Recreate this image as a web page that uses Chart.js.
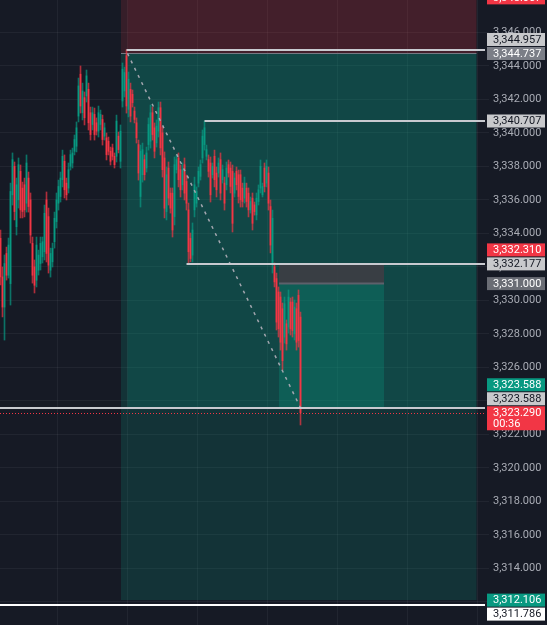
<!DOCTYPE html>
<html>
<head>
<meta charset="utf-8">
<script src="https://cdn.jsdelivr.net/npm/chart.js@4.4.1/dist/chart.umd.min.js"></script>
<style>
html, body { margin: 0; padding: 0; background: #161a25; }
canvas { display: block; }
</style>
</head>
<body>
<canvas id="myChart" width="547" height="625"></canvas>
<script>
// candles (one per index)
var opens = [3333.7,3331.4,3329.6,3332.8,3331.5,3331.0,3336.3,3338.0,3334.4,3336.0,
3337.7,3336.7,3336.9,3335.8,3337.3,3336.0,3333.4,3332.0,3331.2,3331.8,
3332.2,3332.6,3332.9,3336.0,3335.0,3331.8,3332.3,3333.5,3334.7,3335.8,
3336.2,3337.2,3338.3,3337.0,3336.7,3338.0,3338.2,3338.9,3339.2,3341.0,
3343.5,3341.2,3342.1,3342.2,3342.6,3341.2,3340.5,3341.1,3340.6,3340.1,
3340.5,3340.8,3339.8,3339.7,3339.5,3338.9,3339.1,3338.6,3338.6,3339.8,
3338.3,3341.9,3342.5,3344.6,3341.4,3342.6,3342.3,3341.3,3340.6,3339.3,
3336.2,3337.5,3338.4,3337.9,3339.3,3339.5,3341.2,3340.3,3339.4,3340.1,
3341.5,3340.0,3338.5,3335.3,3337.9,3336.4,3336.4,3335.0,3337.8,3338.5,
3337.8,3336.9,3338.1,3337.1,3335.4,3333.7,3332.7,3335.4,3335.8,3337.0,
3337.4,3338.5,3339.3,3338.6,3338.4,3338.2,3337.5,3338.6,3337.6,3337.6,
3338.4,3337.2,3337.0,3336.9,3338.1,3337.9,3337.7,3336.4,3337.7,3337.5,
3337.5,3336.7,3336.1,3336.7,3336.4,3335.4,3336.1,3335.7,3335.1,3335.9,
3336.7,3336.3,3337.9,3337.0,3337.6,3335.6,3332.2,3332.0,3331.3,3330.5,
3330.2,3329.5,3327.8,3328.6,3328.4,3329.9,3329.9,3328.0,3329.5,3330.3,
3329.0];
var highs = [3334.20,3331.99,3332.71,3333.18,3333.72,3337.00,3338.80,3338.26,3337.30,3338.50,
3338.08,3337.06,3337.30,3338.68,3337.66,3336.41,3333.78,3332.41,3333.78,3333.00,
3333.78,3333.78,3335.69,3336.47,3335.51,3333.12,3333.42,3335.27,3336.41,3337.18,
3337.66,3338.97,3338.68,3337.30,3338.20,3338.97,3339.09,3339.87,3340.65,3343.27,
3343.99,3342.97,3342.44,3343.75,3342.97,3341.54,3341.54,3341.48,3340.89,3341.60,
3341.36,3341.06,3340.59,3339.99,3339.75,3339.15,3339.33,3338.80,3341.06,3340.05,
3340.47,3344.17,3343.93,3344.957,3343.63,3342.97,3342.56,3341.54,3340.89,3339.57,
3339.27,3339.39,3338.68,3339.15,3340.89,3341.66,3341.54,3340.59,3340.77,3341.84,
3341.84,3340.35,3338.86,3337.96,3338.26,3336.71,3336.71,3338.56,3338.68,3338.80,
3338.08,3338.20,3338.50,3337.48,3335.81,3334.02,3334.62,3337.36,3336.77,3337.96,
3338.38,3340.17,3340.707,3339.27,3338.68,3338.56,3338.20,3338.97,3337.96,3338.50,
3338.80,3338.08,3337.36,3338.26,3338.38,3338.26,3338.08,3337.60,3337.96,3337.78,
3337.78,3337.00,3337.36,3337.00,3336.71,3336.17,3336.41,3335.87,3336.41,3336.89,
3338.38,3337.00,3338.20,3338.38,3337.96,3335.99,3335.39,3332.23,3331.63,3330.80,
3330.50,3329.84,3330.20,3328.83,3330.62,3330.14,3330.20,3330.02,3329.84,3330.62,
3329.30];
var lows = [3330.92,3329.01,3327.63,3331.21,3331.33,3329.72,3335.69,3334.80,3333.90,3335.51,
3334.92,3334.92,3334.98,3335.27,3335.27,3333.42,3331.03,3330.44,3330.80,3331.51,
3331.81,3332.23,3332.41,3332.29,3331.63,3331.39,3331.99,3333.12,3334.32,3335.39,
3335.87,3336.77,3336.11,3335.99,3336.41,3337.78,3337.90,3338.68,3338.86,3340.65,
3341.18,3340.77,3340.47,3341.84,3340.17,3339.57,3340.17,3339.57,3339.87,3339.75,
3340.17,3339.27,3339.57,3338.38,3338.68,3338.08,3338.38,3337.90,3338.26,3338.80,
3337.90,3341.54,3342.14,3341.18,3340.95,3340.65,3341.54,3340.59,3339.39,3337.18,
3335.57,3337.06,3337.18,3337.66,3338.97,3339.09,3339.57,3338.50,3339.15,3339.75,
3338.68,3337.36,3334.92,3334.80,3335.69,3335.21,3333.78,3334.50,3337.60,3336.77,
3336.17,3336.59,3335.99,3335.39,3332.18,3332.30,3332.29,3334.98,3335.57,3336.77,
3337.18,3338.20,3338.97,3338.38,3337.36,3335.87,3337.30,3336.77,3336.17,3337.36,
3335.99,3337.00,3335.39,3336.59,3337.36,3336.41,3334.08,3336.17,3336.59,3335.81,
3335.57,3335.57,3335.81,3335.57,3334.98,3335.21,3334.20,3335.09,3334.80,3335.69,
3336.41,3336.17,3336.47,3336.77,3335.39,3332.83,3331.63,3330.80,3328.23,3327.81,
3327.03,3325.84,3327.45,3327.03,3328.05,3327.93,3327.81,3327.63,3327.03,3327.21,
3322.56];
var closes = [3331.4,3329.6,3332.2,3331.5,3333.3,3336.5,3338.4,3335.3,3336.9,3338.1,
3335.4,3335.3,3335.4,3338.2,3335.6,3333.9,3331.5,3330.9,3333.3,3332.7,
3333.4,3333.5,3335.2,3332.8,3332.1,3332.8,3333.1,3334.9,3336.0,3336.8,
3337.3,3338.6,3336.6,3336.3,3337.8,3338.7,3338.8,3339.6,3340.3,3342.8,
3341.6,3342.5,3340.9,3343.4,3340.6,3339.9,3341.2,3339.9,3340.1,3341.2,
3341.1,3339.6,3340.3,3338.7,3338.9,3338.3,3338.6,3338.1,3340.7,3339.0,
3340.1,3343.8,3343.6,3341.6,3343.2,3341.0,3341.8,3340.8,3339.7,3337.6,
3338.9,3339.0,3337.5,3338.8,3340.5,3341.2,3339.9,3338.9,3340.4,3341.5,
3339.1,3337.8,3335.5,3337.5,3336.1,3335.5,3334.2,3338.1,3338.4,3337.2,
3336.6,3337.8,3336.4,3335.8,3332.9,3332.5,3334.2,3336.9,3336.5,3337.7,
3338.1,3339.8,3340.3,3339.0,3337.7,3336.3,3338.0,3337.2,3336.6,3338.2,
3336.4,3337.8,3335.8,3337.9,3337.6,3336.8,3334.6,3337.3,3336.9,3336.2,
3336.0,3335.9,3337.0,3335.9,3335.4,3335.9,3334.6,3335.3,3336.1,3336.6,
3338.0,3336.8,3336.8,3338.0,3335.8,3333.3,3334.9,3331.1,3328.7,3328.3,
3327.5,3326.4,3329.8,3327.4,3330.2,3328.3,3328.2,3329.6,3327.5,3327.6,
3323.29];

// price levels
var shortStop = 3348.057, shortEntry = 3344.737, shortTarget = 3312.106;
var tradeStop = 3332.177, tradeEntry = 3331.000, tradeTarget = 3323.588;
var lineLevels = [3344.957, 3340.707, 3332.177, 3323.588, 3311.786];
var lineStarts = [63, 102, 93, -1, -1];
var alertLevel = 3332.310;
var lastPrice = 3323.290;
var countdown = "00:36";

// time positions (candle index)
var timeGrid = [28.5, 63.5, 98.5, 133.5, 168.5, 203.5, 238.5];
var shortFrom = 60.25, shortFilled = 63.5, shortTo = 238;
var tradeFrom = 139.25, tradeTo = 191.75;
var priceMin = 3310.62, priceMax = 3347.93;

var teal = '#089981';
var red = '#f23645';

function fmt(v){
    return v.toLocaleString('en-US', {minimumFractionDigits: 3, maximumFractionDigits: 3});
}

var wickData = [], bodyData = [], bodyColors = [], wickColors = [];
for (var i = 0; i < opens.length; i++) {
    wickData.push({x: i, y: [lows[i], highs[i]]});
    bodyData.push({x: i, y: [opens[i], closes[i]]});
    if (closes[i] >= opens[i]) {
        bodyColors.push(teal);
        wickColors.push('rgba(8,153,129,0.7)');
    } else {
        bodyColors.push(red);
        wickColors.push('rgba(242,54,69,0.7)');
    }
}

function rect(ctx, x0, x1, y0, y1, color){
    ctx.fillStyle = color;
    ctx.fillRect(x0, Math.min(y0, y1), x1 - x0, Math.abs(y1 - y0));
}

function hline(ctx, x0, x1, y, color, width, dash){
    ctx.save();
    ctx.strokeStyle = color;
    ctx.lineWidth = width;
    ctx.setLineDash(dash || []);
    ctx.beginPath();
    ctx.moveTo(x0, y);
    ctx.lineTo(x1, y);
    ctx.stroke();
    ctx.restore();
}

function noPadding(s){
    s.paddingTop = 0;
    s.paddingBottom = 0;
    s.paddingLeft = 0;
    s.paddingRight = 0;
}

var overlay = {
    id: 'overlay',
    beforeDraw: function(chart){
        var ctx = chart.ctx;
        ctx.save();
        ctx.fillStyle = '#161a25';
        ctx.fillRect(0, 0, chart.width, chart.height);
        ctx.restore();
    },
    beforeDatasetsDraw: function(chart){
        var ctx = chart.ctx, xs = chart.scales.x, ys = chart.scales.y, a = chart.chartArea;
        ctx.save();
        ctx.beginPath();
        ctx.rect(a.left, a.top, a.right - a.left, a.bottom - a.top);
        ctx.clip();
        var x0 = xs.getPixelForValue(shortFrom), x1 = xs.getPixelForValue(shortTo);
        var xf = xs.getPixelForValue(shortFilled);
        // stop zone
        rect(ctx, x0, x1, ys.getPixelForValue(shortStop), ys.getPixelForValue(shortEntry), 'rgba(242,54,69,0.15)');
        rect(ctx, xf, x1, ys.getPixelForValue(shortStop), ys.getPixelForValue(shortEntry), 'rgba(242,54,69,0.07)');
        // target zone
        rect(ctx, x0, x1, ys.getPixelForValue(shortEntry), ys.getPixelForValue(shortTarget), 'rgba(8,153,129,0.2)');
        rect(ctx, xf, x1, ys.getPixelForValue(shortEntry), ys.getPixelForValue(tradeTarget), 'rgba(8,153,129,0.2)');
        // second position
        var t0 = xs.getPixelForValue(tradeFrom), t1 = xs.getPixelForValue(tradeTo);
        rect(ctx, t0, t1, ys.getPixelForValue(tradeStop), ys.getPixelForValue(tradeEntry), 'rgba(60,62,68,0.95)');
        rect(ctx, t0, t1, ys.getPixelForValue(tradeEntry), ys.getPixelForValue(tradeTarget), 'rgba(8,153,129,0.28)');
        hline(ctx, t0, t1, ys.getPixelForValue(tradeEntry), '#5d606b', 2);
        hline(ctx, x0, x1, ys.getPixelForValue(shortEntry), '#787b86', 1);
        ctx.restore();
    },
    afterDatasetsDraw: function(chart){
        var ctx = chart.ctx, xs = chart.scales.x, ys = chart.scales.y, a = chart.chartArea;
        ctx.save();
        ctx.beginPath();
        ctx.rect(a.left, a.top, a.right - a.left, a.bottom - a.top);
        ctx.clip();
        // path from entry to current price
        ctx.strokeStyle = '#a3a6af';
        ctx.lineWidth = 1.5;
        ctx.setLineDash([3, 5]);
        ctx.beginPath();
        ctx.moveTo(xs.getPixelForValue(shortFilled), ys.getPixelForValue(shortEntry));
        ctx.lineTo(xs.getPixelForValue(opens.length - 1), ys.getPixelForValue(tradeTarget));
        ctx.stroke();
        ctx.setLineDash([]);
        for (var i = 0; i < lineLevels.length; i++) {
            var sx = lineStarts[i] < 0 ? a.left : xs.getPixelForValue(lineStarts[i]);
            var c = i == lineLevels.length - 1 ? '#ffffff' : '#c8cad0';
            hline(ctx, sx, a.right, Math.round(ys.getPixelForValue(lineLevels[i])), c, 2);
        }
        hline(ctx, a.left, a.right, Math.round(ys.getPixelForValue(lastPrice)) + 0.5, red, 1, [1, 2]);
        ctx.restore();
    },
    afterDraw: function(chart){
        var ctx = chart.ctx, ys = chart.scales.y, a = chart.chartArea;
        var light = '#c8c9cc', dark = '#131722';
        var tags = [
            {v: shortStop, bg: red, fg: '#fff'},
            {v: lineLevels[0], bg: light, fg: dark},
            {v: shortEntry, bg: '#7b7e87', fg: '#fff'},
            {v: lineLevels[1], bg: light, fg: dark},
            {v: alertLevel, bg: red, fg: '#fff'},
            {v: lineLevels[2], bg: light, fg: dark},
            {v: tradeEntry, bg: '#6a6d75', fg: '#fff'},
            {v: tradeTarget, bg: teal, fg: '#fff'},
            {v: lineLevels[3], bg: light, fg: dark},
            {v: lastPrice, bg: red, fg: '#fff', sub: countdown},
            {v: shortTarget, bg: teal, fg: '#fff'},
            {v: lineLevels[4], bg: '#ffffff', fg: dark}
        ];
        tags.forEach(function(t){
            t.y = ys.getPixelForValue(t.v);
            t.h = t.sub ? 24 : 13;
            t.top = t.y - 6.5;
        });
        tags.sort(function(p, q){ return p.top - q.top || q.h - p.h; });
        // the last price tag stays put, the others move away from it
        var k = 0;
        while (!tags[k].sub) k++;
        for (var i = k - 1; i >= 0; i--) {
            if (tags[i].top + tags[i].h + 1 > tags[i + 1].top) {
                tags[i].top = tags[i + 1].top - tags[i].h - 1;
            }
        }
        for (var j = k + 1; j < tags.length; j++) {
            if (tags[j - 1].top + tags[j - 1].h + 1 > tags[j].top) {
                tags[j].top = tags[j - 1].top + tags[j - 1].h + 1;
            }
        }
        ctx.save();
        ctx.font = '11px Roboto';
        ctx.textBaseline = 'middle';
        ctx.textAlign = 'left';
        tags.forEach(function(t){
            ctx.fillStyle = t.bg;
            ctx.fillRect(a.right + 2, t.top, 58, t.h);
            ctx.fillStyle = t.fg;
            ctx.fillText(fmt(t.v), a.right + 8, t.top + 7);
            if (t.sub) {
                ctx.fillText(t.sub, a.right + 8, t.top + 18);
            }
        });
        ctx.restore();
    }
};

new Chart('myChart', {
    type: 'bar',
    data: {
        datasets: [{
            data: wickData,
            backgroundColor: wickColors,
            barThickness: 1,
            grouped: false,
            order: 2
        }, {
            data: bodyData,
            backgroundColor: bodyColors,
            barThickness: 1,
            grouped: false,
            order: 1
        }]
    },
    options: {
        responsive: false,
        animation: false,
        devicePixelRatio: 1,
        layout: { padding: 0, autoPadding: false },
        plugins: {
            legend: { display: false },
            tooltip: { enabled: false }
        },
        scales: {
            x: {
                type: 'linear',
                min: -0.25,
                max: 242.25,
                offset: false,
                ticks: { display: false },
                grid: { color: 'rgba(255,255,255,0.05)', drawTicks: false, offset: false },
                border: { display: false },
                afterBuildTicks: function(s){
                    s.ticks = timeGrid.map(function(v){ return {value: v}; });
                },
                afterFit: function(s){
                    s.height = 0;
                    noPadding(s);
                }
            },
            y: {
                position: 'right',
                min: priceMin,
                max: priceMax,
                ticks: {
                    stepSize: 2,
                    includeBounds: false,
                    color: '#a9acb5',
                    padding: 4,
                    font: { family: 'Roboto', size: 11 },
                    callback: function(v){ return fmt(v); }
                },
                grid: { color: 'rgba(255,255,255,0.05)', tickLength: 4 },
                border: { display: false },
                afterFit: function(s){
                    s.width = 62;
                    noPadding(s);
                }
            }
        }
    },
    plugins: [overlay]
});
</script>
</body>
</html>
